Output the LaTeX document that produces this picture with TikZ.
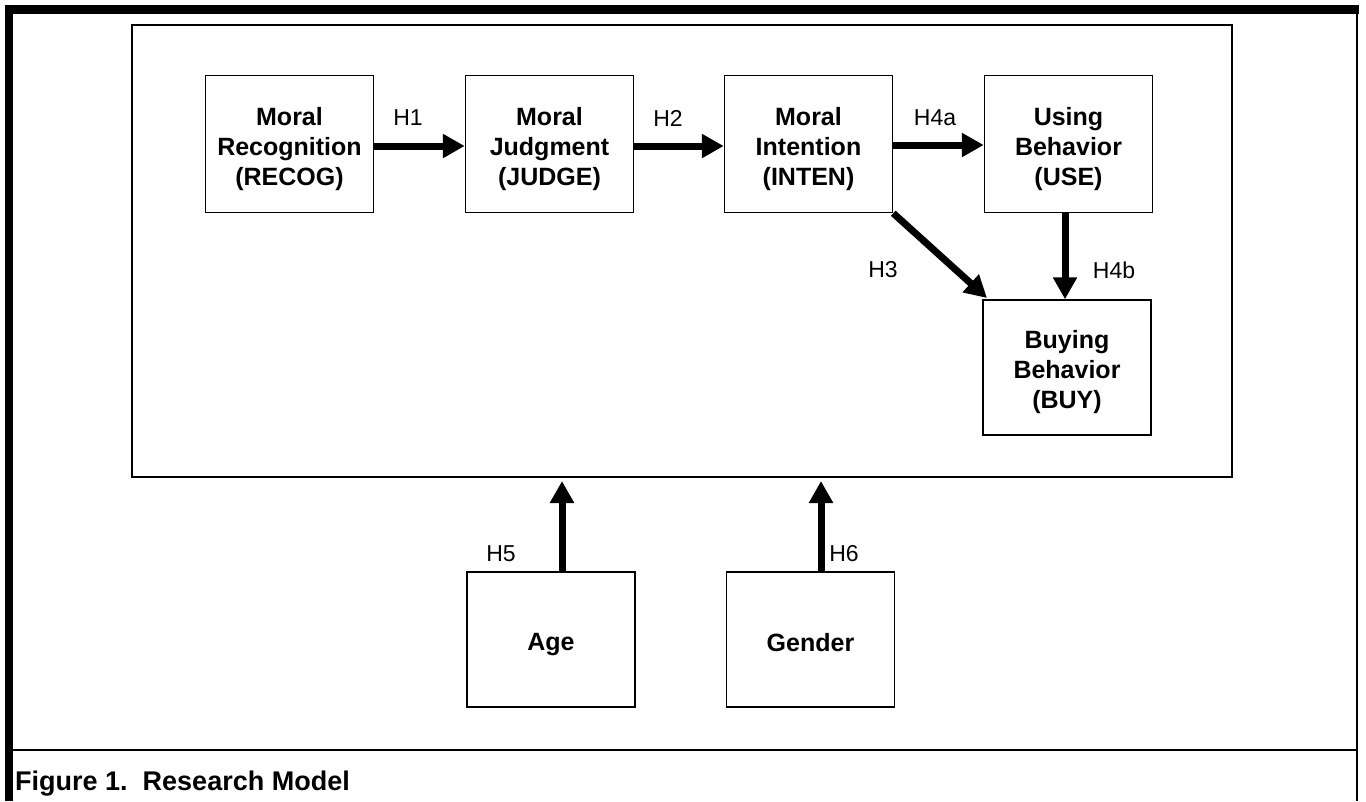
\documentclass[tikz,border=0pt]{standalone}
\usepackage{fontspec}
\setmainfont{Liberation Sans}
\usetikzlibrary{arrows.meta}
\newcommand\mytopstrut{\rule{0pt}{28pt}}
\tikzset{
  box/.style={draw=black, line width=1.5pt, fill=white, align=center, inner sep=0pt,
    minimum width=168pt, minimum height=137pt,
    font=\fontsize{25}{30}\selectfont\bfseries},
  hyp/.style={font=\fontsize{23}{26}\selectfont, inner sep=0pt},
  thick arrow/.style={line width=7pt, -{Triangle[length=22pt,width=23pt]}, shorten >=0pt},
}
\begin{document}
\begin{tikzpicture}[x=1pt,y=-1pt]
\useasboundingbox (0,0) rectangle (1366,801);
\fill[white] (0,0) rectangle (1366,801);
% outer frame
\fill[black] (5,5) rectangle (1358.5,14);
\fill[black] (5,5) rectangle (13,801);
\draw[line width=2.5pt] (1357,5) -- (1357,801);
\draw[line width=2pt] (13,750) -- (1357,750);
\node[anchor=base west, inner sep=0pt, font=\fontsize{27}{30}\selectfont\bfseries] (cap) at (15,790) {Figure 1.\ \ Research Model};
% inner box
\draw[line width=2pt] (132,25) rectangle (1232,477);
% nodes
\node[box] (recog) at (289.5,144) {\mytopstrut Moral\\Recognition\\(RECOG)};
\node[box] (judge) at (549.5,144) {\mytopstrut Moral\\Judgment\\(JUDGE)};
\node[box] (inten) at (808.5,144) {\mytopstrut Moral\\Intention\\(INTEN)};
\node[box] (use) at (1068.5,144) {\mytopstrut Using\\Behavior\\(USE)};
\node[box, minimum height=135pt] (buy) at (1067,367.5) {\mytopstrut Buying\\Behavior\\(BUY)};
\node[box, minimum height=135pt] (age) at (551,639.5) {\mytopstrut Age};
\node[box, minimum height=135pt] (gender) at (810.5,639.5) {\rule{0pt}{24pt}Gender};
% arrows
\draw[thick arrow] ([yshift=-2pt]recog.east) -- ([yshift=-2pt]judge.west);
\draw[thick arrow] ([yshift=-2pt]judge.east) -- ([yshift=-2pt]inten.west);
\draw[thick arrow] ([yshift=-1pt]inten.east) -- ([yshift=-1pt]use.west);
\draw[thick arrow] ([xshift=-2pt]buy.north |- use.south) -- ([xshift=-2pt]buy.north);
\coordinate (h3tip) at (987,298);
\draw[thick arrow] (inten.south east) -- (h3tip);
\coordinate (h5tip) at (562,481);
\coordinate (h6tip) at (821,481);
\draw[thick arrow] (age.north -| h5tip) -- (h5tip);
\draw[thick arrow] (gender.north -| h6tip) -- (h6tip);
% labels
\node[hyp] (lh1) at (408,118) {H1};
\node[hyp] (lh2) at (668,118) {H2};
\node[hyp] (lh4a) at (935,118) {H4a};
\node[hyp] (lh3) at (883,270) {H3};
\node[hyp] (lh4b) at (1114,270) {H4b};
\node[hyp] (lh5) at (501,554) {H5};
\node[hyp] (lh6) at (844,554) {H6};
\end{tikzpicture}
\end{document}
